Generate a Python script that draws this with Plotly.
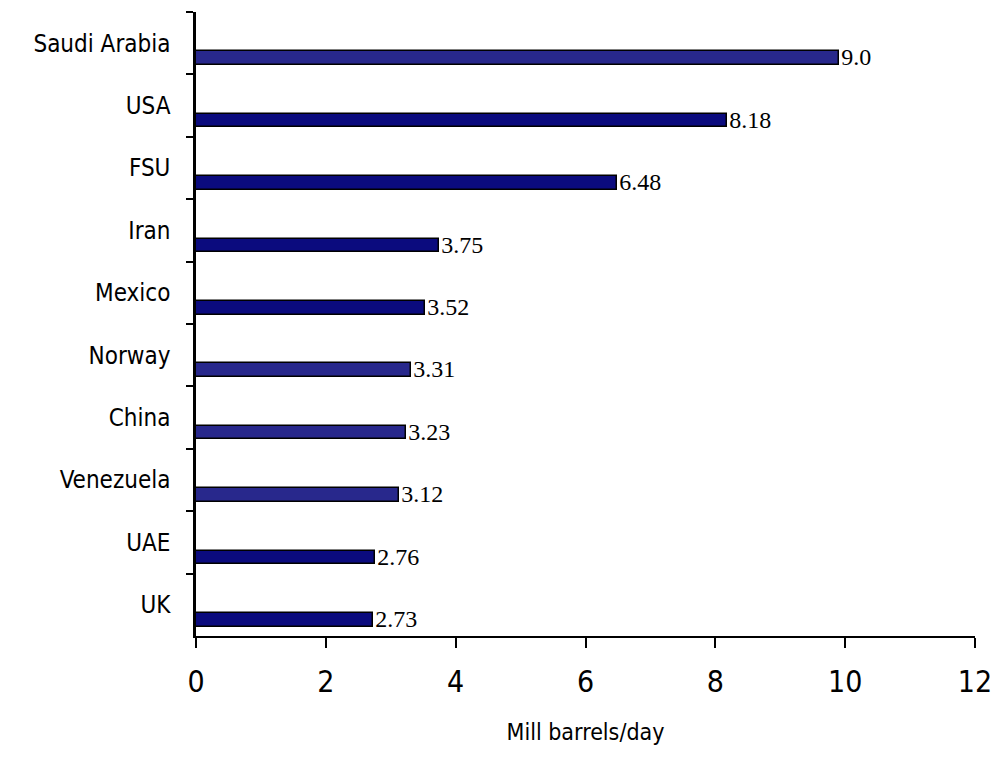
import plotly.graph_objects as go

countries = ["Saudi Arabia", "USA", "FSU", "Iran", "Mexico", "Norway",
             "China", "Venezuela", "UAE", "UK"]
production = [9.9, 8.18, 6.48, 3.75, 3.52, 3.31, 3.23, 3.12, 2.76, 2.73]
value_labels = ["9.0", "8.18", "6.48", "3.75", "3.52", "3.31", "3.23", "3.12", "2.76", "2.73"]
x_ticks = [0, 2, 4, 6, 8, 10, 12]

LIGHT = "#28288c"
DARK = "#0b0b7e"
light_set = {"Saudi Arabia", "Norway", "China", "Venezuela"}
colors = [LIGHT if c in light_set else DARK for c in countries]

sans = "DejaVu Sans Condensed"
serif = "Liberation Serif, Times New Roman, serif"

fig = go.Figure(go.Bar(
    y=countries,
    x=production,
    orientation="h",
    marker=dict(color=colors, line=dict(color="black", width=1.5)),
    width=0.22,
    offset=0.13,
    text=value_labels,
    textposition="outside",
    constraintext="none",
    cliponaxis=False,
    textfont=dict(family=serif, size=24, color="black"),
    hoverinfo="skip",
))

fig.update_layout(
    width=991, height=758,
    margin=dict(l=196, r=16, t=12, b=122),
    paper_bgcolor="white", plot_bgcolor="white",
    showlegend=False,
    bargap=0,
)

fig.update_xaxes(
    range=[0, 12],
    tickvals=x_ticks,
    ticktext=[str(v) for v in x_ticks],
    ticks="outside", ticklen=10, tickwidth=2, tickcolor="black",
    showline=True, linecolor="black", linewidth=2,
    showgrid=False, zeroline=False, automargin=False,
    ticklabeloverflow="allow",
    tickfont=dict(family=sans, size=30, color="black"),
    ticklabelstandoff=8,
    title=dict(text="Mill barrels/day", font=dict(family=sans, size=23, color="black"), standoff=26),
)

fig.update_yaxes(
    type="category",
    categoryorder="array", categoryarray=countries,
    range=[9.5, -0.5],
    tickson="boundaries",
    ticks="outside", ticklen=7, tickwidth=2, tickcolor="black",
    showline=True, linecolor="black", linewidth=2.5,
    showgrid=False, zeroline=False, automargin=False,
    tickfont=dict(family=sans, size=24, color="black"),
    ticklabelstandoff=18,
)

fig.write_html(
    "out.html",
    config={"displayModeBar": False},
    post_script="document.body.style.margin='0';document.body.style.overflow='hidden';",
)
